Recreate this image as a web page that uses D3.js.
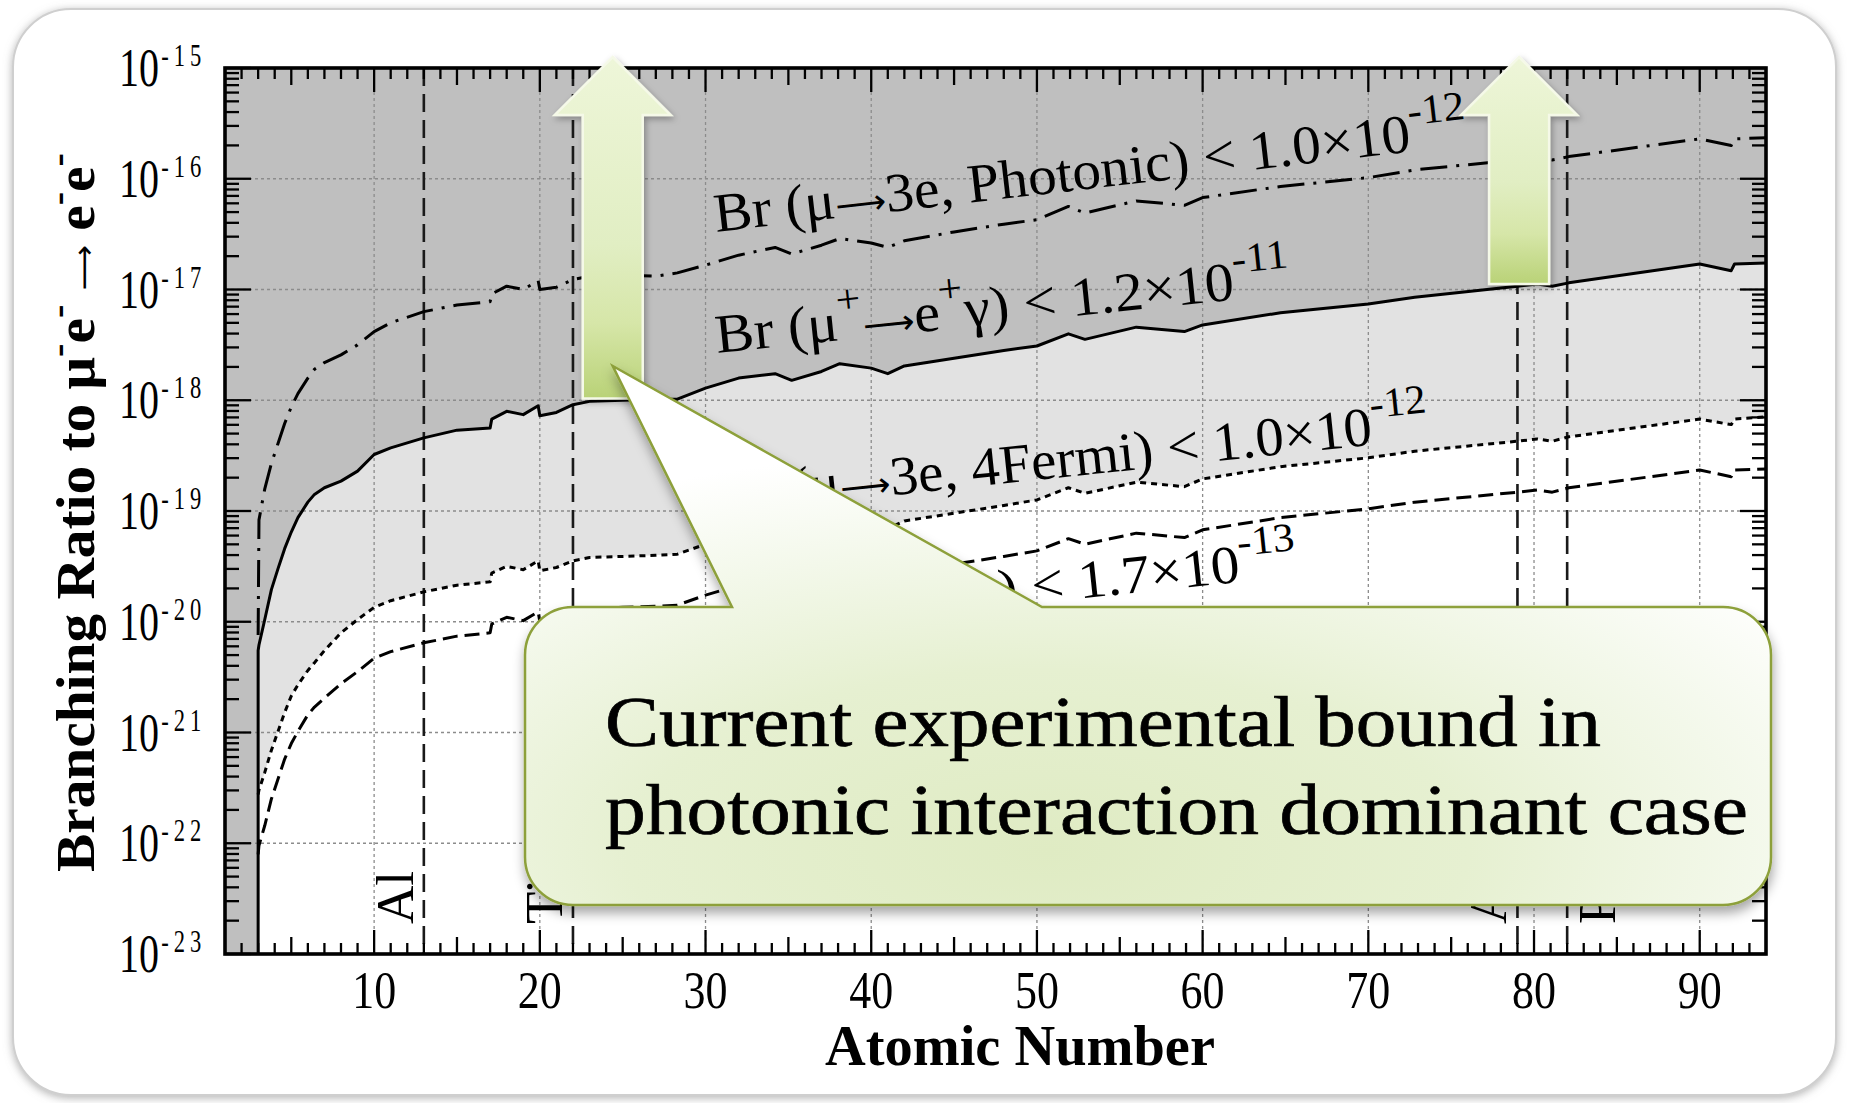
<!DOCTYPE html>
<html>
<head>
<meta charset="utf-8">
<script src="https://cdn.jsdelivr.net/npm/d3@7"></script>
<style>
  html, body { margin: 0; padding: 0; background: #ffffff; }
  svg { display: block; }
</style>
</head>
<body>
<svg id="chart" width="1849" height="1103"></svg>
<script>
// ---------------------------------------------------------------------------
// Upper limits on Br(mu- e- -> e- e-) in muonic atoms versus atomic number Z,
// derived from existing bounds. Values are log10 of the branching ratio.
// ---------------------------------------------------------------------------
const atomicNumber = [3, 3.05, 3.4, 3.8, 4.2, 4.6, 5, 5.4, 6, 6.4, 7, 8, 9, 10, 11, 13, 15, 17, 17.1, 18,
  19, 19.9, 20, 21, 22, 23, 25, 27, 28.3, 30, 32, 34.2, 35.2, 37, 38.1, 40, 41, 42, 45, 48,
  50, 51.9, 52.9, 56, 58.9, 60, 64.7, 70, 72.8, 79, 80.2, 81.1, 82.1, 90, 91.9, 92.1, 94];

// Br(mu+ -> e+ gamma) < 1.2e-11  (solid)
const logMuEGamma = [-20.26, -20.21, -19.98, -19.71, -19.52, -19.34, -19.19, -19.06, -18.92, -18.85,
  -18.79, -18.73, -18.64, -18.49, -18.43, -18.34, -18.27, -18.25, -18.17, -18.10,
  -18.13, -18.05, -18.14, -18.11, -18.04, -18.01, -18.00, -17.99, -17.99, -17.89,
  -17.80, -17.76, -17.82, -17.74, -17.67, -17.71, -17.76, -17.69, -17.62, -17.55,
  -17.51, -17.40, -17.45, -17.34, -17.38, -17.32, -17.21, -17.13, -17.07, -16.97,
  -16.95, -16.97, -16.94, -16.77, -16.83, -16.77, -16.76];

// Br(mu -> 3e, photonic) < 1.0e-12  (dash-dot)
const log3ePhotonic = [-20.12, -19.08, -18.80, -18.57, -18.39, -18.21, -18.06, -17.94, -17.80, -17.72,
  -17.66, -17.59, -17.50, -17.38, -17.30, -17.20, -17.14, -17.11, -17.04, -16.97,
  -17.00, -16.92, -17.00, -16.98, -16.91, -16.88, -16.87, -16.88, -16.85, -16.78,
  -16.69, -16.62, -16.68, -16.60, -16.54, -16.58, -16.62, -16.56, -16.48, -16.41,
  -16.37, -16.25, -16.31, -16.20, -16.24, -16.17, -16.07, -15.99, -15.92, -15.83,
  -15.81, -15.83, -15.80, -15.64, -15.70, -15.64, -15.63];

// Br(mu -> 3e, 4Fermi) < 1.0e-12  (dotted)
const log3eFourFermi = [-21.56, -21.52, -21.36, -21.16, -20.99, -20.82, -20.67, -20.57, -20.44, -20.37,
  -20.26, -20.10, -19.98, -19.87, -19.81, -19.73, -19.67, -19.64, -19.56, -19.50,
  -19.53, -19.45, -19.54, -19.51, -19.45, -19.42, -19.41, -19.40, -19.39, -19.30,
  -19.21, -19.17, -19.23, -19.15, -19.08, -19.12, -19.16, -19.09, -19.02, -18.95,
  -18.90, -18.79, -18.84, -18.74, -18.78, -18.71, -18.60, -18.52, -18.46, -18.37,
  -18.35, -18.37, -18.33, -18.17, -18.22, -18.17, -18.15];

// bound quoted as < 1.7e-13  (dashed)
const logBound17 = [-22.10, -22.02, -21.84, -21.60, -21.42, -21.24, -21.10, -20.99, -20.84, -20.77,
  -20.69, -20.56, -20.45, -20.33, -20.27, -20.19, -20.13, -20.10, -20.02, -19.96,
  -19.99, -19.91, -20.00, -19.97, -19.91, -19.88, -19.87, -19.86, -19.85, -19.76,
  -19.67, -19.63, -19.69, -19.61, -19.54, -19.58, -19.62, -19.55, -19.48, -19.41,
  -19.36, -19.25, -19.30, -19.20, -19.24, -19.17, -19.06, -18.98, -18.92, -18.83,
  -18.81, -18.83, -18.79, -18.63, -18.69, -18.63, -18.62];

// marked target nuclei
const elementSymbols = ['Al', 'Ti', 'Au', 'Pb'];
const elementZ = [13, 22, 79, 82];

// axis ticks
const xTickLabels = [10, 20, 30, 40, 50, 60, 70, 80, 90];
const yDecadeExponents = [-15, -16, -17, -18, -19, -20, -21, -22, -23];

// Z positions of the "allowed region" arrows
const arrowZ = [24.4, 79.1];

// ---------------------------------------------------------------------------
const SERIF = "'Liberation Serif', 'Times New Roman', serif";
const ARROWFONT = "'DejaVu Sans', sans-serif";
const svg = d3.select('#chart');
const defs = svg.append('defs');

const plot = { left: 225, right: 1766, top: 68, bottom: 954 };
const x = d3.scaleLinear().domain([1, 94]).range([plot.left, plot.right]);
const y = d3.scaleLog().domain([1e-23, 1e-15]).range([plot.bottom, plot.top]);
const yExp = e => y(Math.pow(10, e));

const rows = atomicNumber.map((z, i) => ({
  z, s: logMuEGamma[i], d: log3ePhotonic[i], f: log3eFourFermi[i], g: logBound17[i]
}));

// filters
const fShadow = defs.append('filter').attr('id', 'frameShadow')
  .attr('x', '-5%').attr('y', '-5%').attr('width', '110%').attr('height', '110%');
fShadow.append('feDropShadow').attr('dx', 0).attr('dy', 2).attr('stdDeviation', 4)
  .attr('flood-color', '#808080').attr('flood-opacity', 0.6);

const fCallout = defs.append('filter').attr('id', 'calloutShadow')
  .attr('x', '-10%').attr('y', '-10%').attr('width', '120%').attr('height', '130%');
fCallout.append('feDropShadow').attr('dx', 1).attr('dy', 7).attr('stdDeviation', 6)
  .attr('flood-color', '#000').attr('flood-opacity', 0.35);

const fArrow = defs.append('filter').attr('id', 'arrowShadow')
  .attr('x', '-30%').attr('y', '-10%').attr('width', '160%').attr('height', '130%');
fArrow.append('feDropShadow').attr('dx', 2).attr('dy', 3).attr('stdDeviation', 3)
  .attr('flood-color', '#000').attr('flood-opacity', 0.3);

// gradients
const gArrow = defs.append('linearGradient').attr('id', 'arrowFill')
  .attr('x1', 0).attr('y1', 0).attr('x2', 0).attr('y2', 1);
[[0, '#eef6d9'], [0.55, '#e1eec3'], [0.78, '#d6e6a8'], [1, '#b9d277']].forEach(([o, c]) =>
  gArrow.append('stop').attr('offset', o).attr('stop-color', c));

const gCall = defs.append('radialGradient').attr('id', 'calloutFill')
  .attr('cx', 0.42).attr('cy', 0.9).attr('r', 0.75).attr('fx', 0.42).attr('fy', 0.9);
[[0, '#dfebc3'], [0.45, '#e6f0d1'], [0.75, '#f3f8ea'], [1, '#ffffff']].forEach(([o, c]) =>
  gCall.append('stop').attr('offset', o).attr('stop-color', c));

defs.append('clipPath').attr('id', 'plotClip').append('rect')
  .attr('x', plot.left).attr('y', plot.top)
  .attr('width', plot.right - plot.left).attr('height', plot.bottom - plot.top);

// slide panel
svg.append('rect').attr('x', 13).attr('y', 9).attr('width', 1823).attr('height', 1086)
  .attr('rx', 58).attr('fill', '#ffffff').attr('stroke', '#cfcfcf').attr('stroke-width', 2)
  .attr('filter', 'url(#frameShadow)');

// ---------------------------------------------------------------------------
// shaded regions
const body = svg.append('g').attr('clip-path', 'url(#plotClip)');
body.append('rect').attr('x', plot.left).attr('y', plot.top)
  .attr('width', plot.right - plot.left).attr('height', plot.bottom - plot.top)
  .attr('fill', '#bfbfbf');

const areaBelow = key => d3.area().x(d => x(d.z)).y0(plot.bottom).y1(d => yExp(d[key]));
body.append('path').datum(rows).attr('d', areaBelow('s')).attr('fill', '#e2e2e2');
body.append('path').datum(rows).attr('d', areaBelow('f')).attr('fill', '#ffffff');

// grid
const grid = body.append('g').attr('stroke', '#8c8c8c').attr('stroke-width', 1.3)
  .attr('stroke-dasharray', '3,3');
xTickLabels.forEach(z => grid.append('line')
  .attr('x1', x(z)).attr('x2', x(z)).attr('y1', plot.top).attr('y2', plot.bottom));
yDecadeExponents.slice(1, -1).forEach(e => grid.append('line')
  .attr('x1', plot.left).attr('x2', plot.right).attr('y1', yExp(e)).attr('y2', yExp(e)));

// nuclei markers
elementZ.forEach(z => body.append('line')
  .attr('x1', x(z)).attr('x2', x(z)).attr('y1', plot.top).attr('y2', plot.bottom)
  .attr('stroke', '#1a1a1a').attr('stroke-width', 2.6).attr('stroke-dasharray', '18,8'));

// curves
const lineOf = key => d3.line().x(d => x(d.z)).y(d => yExp(d[key]));
const curveStyle = [
  { key: 's', dash: null },
  { key: 'd', dash: '27,9,3,9' },
  { key: 'f', dash: '6,5' },
  { key: 'g', dash: '15,7' }
];
curveStyle.forEach(c => {
  const pts = c.key === 's' ? [{ z: rows[0].z, s: -23 }].concat(rows) : rows;
  body.append('path').datum(pts).attr('d', lineOf(c.key))
    .attr('fill', 'none').attr('stroke', '#000').attr('stroke-width', 3)
    .attr('stroke-linejoin', 'round')
    .attr('stroke-dasharray', c.dash);
});

// ---------------------------------------------------------------------------
// text helper: parts = [[string, kind], ...], kind: '' | 'sup' | 'arrow'
function richText(parent, parts, o) {
  const g = parent.append('g')
    .attr('transform', `translate(${o.x},${o.y}) rotate(${o.angle || 0})`);
  const inner = g.append('g');
  const t = inner.append('text')
    .attr('font-family', o.family || SERIF).attr('font-size', o.size)
    .attr('font-weight', o.weight || 'normal').attr('fill', o.fill || '#000');
  if (o.stroke) t.attr('stroke', o.fill || '#000').attr('stroke-width', o.stroke);
  const supSize = o.size * (o.supScale || 0.7);
  const rise = o.size * (o.supRise || 0.42);
  let up = false;
  parts.forEach(([s, kind]) => {
    const ts = t.append('tspan').text(s);
    if (kind === 'sup') {
      ts.attr('font-size', supSize);
      if (!up) { ts.attr('dy', -rise); up = true; }
    } else {
      if (up) { ts.attr('dy', rise); up = false; }
      if (kind === 'arrow') {
        ts.attr('font-family', ARROWFONT).attr('font-weight', 'normal')
          .attr('font-size', o.size * (o.arrowScale || 0.6));
      }
    }
  });
  if (o.width) {
    const w = t.node().getComputedTextLength();
    inner.attr('transform', `scale(${o.width / w},1)`);
  }
  return g;
}

// curve labels
const labels = svg.append('g');
const labelOpts = { size: 55, supScale: 0.75, supRise: 0.48, arrowScale: 0.62 };
richText(labels, [['Br (μ', ''], ['⟶', 'arrow'], ['3e, Photonic) < 1.0×10', ''], ['-12', 'sup']],
  Object.assign({ x: 716, y: 232, angle: -6.6, width: 758 }, labelOpts));
richText(labels, [['Br (μ', ''], ['+', 'sup'], ['⟶', 'arrow'], ['e', ''], ['+', 'sup'], ['γ) < 1.2×10', ''], ['-11', 'sup']],
  Object.assign({ x: 717, y: 353, angle: -5.9, width: 578 }, labelOpts));
richText(labels, [['Br (μ', ''], ['⟶', 'arrow'], ['3e, 4Fermi) < 1.0×10', ''], ['-12', 'sup']],
  Object.assign({ x: 722, y: 513, angle: -6, width: 712 }, labelOpts));
richText(labels, [[') < 1.7×10', ''], ['-13', 'sup']],
  Object.assign({ x: 1000, y: 607, angle: -6, width: 300 }, labelOpts, { size: 54 }));

// nucleus labels
elementSymbols.forEach((sym, i) => {
  const z = elementZ[i];
  const bx = sym === 'Pb' ? x(z) + 48 : x(z) - 11;
  richText(labels, [[sym, '']], { x: bx, y: 924, angle: -90, size: 53 });
});

// ---------------------------------------------------------------------------
// frame and ticks
const axes = svg.append('g').attr('stroke', '#000').attr('stroke-width', 2.3);
d3.range(2, 94).forEach(z => {
  const len = z % 10 === 0 ? 24 : (z % 5 === 0 ? 17 : 11);
  axes.append('line').attr('x1', x(z)).attr('x2', x(z)).attr('y1', plot.bottom).attr('y2', plot.bottom - len);
  axes.append('line').attr('x1', x(z)).attr('x2', x(z)).attr('y1', plot.top).attr('y2', plot.top + len);
});
const yMinor = [];
for (let e = -23; e < -15; e++) for (let k = 2; k <= 9; k++) yMinor.push(k * Math.pow(10, e));
yMinor.forEach(v => {
  axes.append('line').attr('x1', plot.left).attr('x2', plot.left + 14).attr('y1', y(v)).attr('y2', y(v));
  axes.append('line').attr('x1', plot.right).attr('x2', plot.right - 14).attr('y1', y(v)).attr('y2', y(v));
});
yDecadeExponents.forEach(e => {
  axes.append('line').attr('x1', plot.left).attr('x2', plot.left + 26).attr('y1', yExp(e)).attr('y2', yExp(e));
  axes.append('line').attr('x1', plot.right).attr('x2', plot.right - 26).attr('y1', yExp(e)).attr('y2', yExp(e));
});
svg.append('rect').attr('x', plot.left).attr('y', plot.top)
  .attr('width', plot.right - plot.left).attr('height', plot.bottom - plot.top)
  .attr('fill', 'none').attr('stroke', '#000').attr('stroke-width', 3.6);

// tick labels: "10" with the exponent as a superscript, in one text element
const tickText = svg.append('g').attr('font-family', SERIF).attr('fill', '#000');
yDecadeExponents.forEach(e => {
  const ty = yExp(e);
  const g = tickText.append('g').attr('transform', `translate(119,${ty + 18}) scale(0.727,1)`);
  const t = g.append('text').attr('font-size', 55);
  t.append('tspan').text('10');
  t.append('tspan').attr('font-size', 31).attr('dx', 3).attr('dy', -20)
    .attr('letter-spacing', 7).text(String(e));
});
xTickLabels.forEach(z => {
  tickText.append('text').attr('x', x(z) - 22).attr('y', 1008).attr('font-size', 53)
    .attr('textLength', 44).attr('lengthAdjust', 'spacingAndGlyphs').text(String(z));
});

// axis titles
richText(svg, [['Atomic Number', '']], { x: 825, y: 1065, size: 57, weight: 'bold', width: 390 });
richText(svg, [['Branching Ratio to μ', ''], ['-', 'sup'], ['e', ''], ['-', 'sup'], [' ', ''], ['⟶', 'arrow'],
  [' e', ''], ['-', 'sup'], ['e', ''], ['-', 'sup']],
  { x: 94, y: 872, angle: -90, size: 54, weight: 'bold', width: 719, supScale: 0.7, supRise: 0.45, arrowScale: 0.55 });

// ---------------------------------------------------------------------------
// arrows standing on the mu -> e gamma curve
const solidAt = d3.scaleLinear().domain(atomicNumber).range(logMuEGamma);
const arrows = svg.append('g');
arrowZ.forEach(z => {
  const cx = x(z), bottom = yExp(solidAt(z)) - 2, tip = 57, head = 115;
  const p = d3.path();
  p.moveTo(cx, tip); p.lineTo(cx + 58, head); p.lineTo(cx + 30, head);
  p.lineTo(cx + 30, bottom); p.lineTo(cx - 30, bottom); p.lineTo(cx - 30, head);
  p.lineTo(cx - 58, head); p.closePath();
  arrows.append('path').attr('d', p.toString()).attr('fill', 'url(#arrowFill)')
    .attr('stroke', '#f5f9e8').attr('stroke-width', 2.5).attr('stroke-linejoin', 'miter')
    .attr('filter', 'url(#arrowShadow)');
});

// callout
const box = { l: 525, t: 607, r: 1771, b: 905, rad: 48 };
const tipPt = [x(arrowZ[0]), 366];
const c = d3.path();
c.moveTo(box.l + box.rad, box.t);
c.lineTo(732, box.t); c.lineTo(tipPt[0], tipPt[1]); c.lineTo(1042, box.t);
c.lineTo(box.r - box.rad, box.t);
c.arcTo(box.r, box.t, box.r, box.t + box.rad, box.rad);
c.lineTo(box.r, box.b - box.rad);
c.arcTo(box.r, box.b, box.r - box.rad, box.b, box.rad);
c.lineTo(box.l + box.rad, box.b);
c.arcTo(box.l, box.b, box.l, box.b - box.rad, box.rad);
c.lineTo(box.l, box.t + box.rad);
c.arcTo(box.l, box.t, box.l + box.rad, box.t, box.rad);
c.closePath();
svg.append('path').attr('d', c.toString()).attr('fill', 'url(#calloutFill)')
  .attr('stroke', '#8da03a').attr('stroke-width', 2.5).attr('filter', 'url(#calloutShadow)');

richText(svg, [['Current experimental bound in', '']], { x: 605, y: 746, size: 72, width: 996, stroke: 0.7 });
richText(svg, [['photonic interaction dominant case', '']], { x: 605, y: 834, size: 72, width: 1143, stroke: 0.7 });
</script>
</body>
</html>
